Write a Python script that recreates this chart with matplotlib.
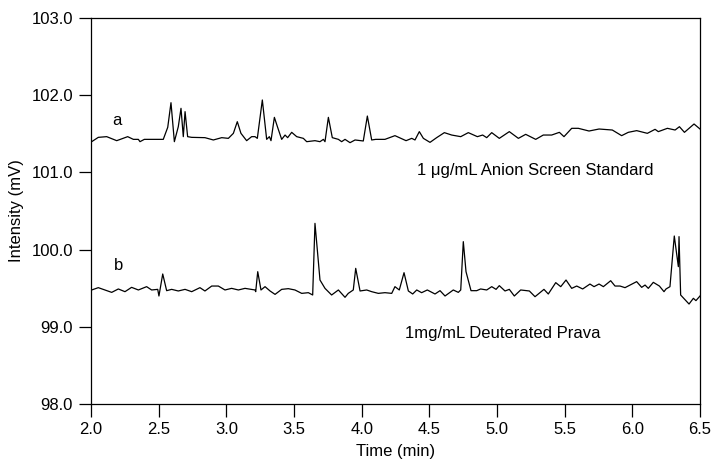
import matplotlib
matplotlib.use("Agg")
import matplotlib.pyplot as plt
from matplotlib.ticker import FormatStrFormatter

plt.rcParams['font.family'] = ['Liberation Sans', 'DejaVu Sans']

# Trace a: 1 ug/mL Anion Screen Standard
a_time = [2.005, 2.054, 2.116, 2.19, 2.271, 2.313, 2.35, 2.362, 2.394, 2.534, 2.567, 2.591,
          2.616, 2.645, 2.665, 2.682, 2.695, 2.714, 2.744, 2.842, 2.904, 2.966, 3.015, 3.052,
          3.081, 3.108, 3.15, 3.187, 3.212, 3.229, 3.266, 3.298, 3.318, 3.33, 3.355, 3.379,
          3.409, 3.434, 3.453, 3.483, 3.52, 3.569, 3.594, 3.655, 3.692, 3.717, 3.729, 3.754,
          3.783, 3.828, 3.852, 3.877, 3.914, 3.951, 4.012, 4.042, 4.074, 4.104, 4.172,
          4.246, 4.328, 4.37, 4.394, 4.426, 4.456, 4.505, 4.554, 4.611, 4.665, 4.732, 4.788,
          4.855, 4.894, 4.924, 4.961, 5.017, 5.091, 5.158, 5.212, 5.286, 5.342, 5.404, 5.461,
          5.495, 5.552, 5.601, 5.68, 5.754, 5.852, 5.921, 5.97, 6.032, 6.111, 6.168, 6.192,
          6.259, 6.316, 6.348, 6.385, 6.456, 6.5]
a_value = [101.398, 101.454, 101.463, 101.411, 101.463, 101.428, 101.428, 101.398, 101.428,
           101.428, 101.584, 101.903, 101.398, 101.592, 101.83, 101.463, 101.787, 101.463,
           101.454, 101.45, 101.42, 101.45, 101.441, 101.506, 101.657, 101.506, 101.411,
           101.463, 101.463, 101.441, 101.938, 101.428, 101.463, 101.411, 101.713, 101.584,
           101.428, 101.484, 101.45, 101.519, 101.463, 101.441, 101.398, 101.411, 101.398,
           101.428, 101.398, 101.713, 101.45, 101.428, 101.398, 101.428, 101.385, 101.42,
           101.407, 101.73, 101.42, 101.428, 101.428,
           101.476, 101.411, 101.441, 101.42, 101.528, 101.441, 101.389, 101.45, 101.515,
           101.484, 101.463, 101.515, 101.463, 101.484, 101.45, 101.515, 101.441, 101.528,
           101.441, 101.493, 101.428, 101.484, 101.484, 101.519, 101.463, 101.571, 101.571,
           101.536, 101.562, 101.549, 101.476, 101.519, 101.541, 101.506, 101.558, 101.528,
           101.571, 101.549, 101.592, 101.519, 101.627, 101.562]

# Trace b: 1 mg/mL Deuterated Prava
b_time = [2.005, 2.054, 2.153, 2.202, 2.251, 2.30, 2.35, 2.411, 2.448, 2.493, 2.502, 2.53,
          2.559, 2.596, 2.645, 2.695, 2.744, 2.805, 2.842, 2.892, 2.941, 2.99, 3.039, 3.089,
          3.138, 3.212, 3.217, 3.232, 3.256, 3.286, 3.323, 3.36, 3.409, 3.458, 3.507, 3.557,
          3.606, 3.638, 3.655, 3.692, 3.729, 3.778, 3.828, 3.877, 3.901, 3.938, 3.956, 3.988,
          4.037, 4.074, 4.123, 4.172, 4.222, 4.246,
          4.278, 4.313, 4.345, 4.377, 4.407, 4.443, 4.485, 4.542, 4.579, 4.616, 4.677, 4.714,
          4.732, 4.751, 4.771, 4.808, 4.85, 4.879, 4.924, 4.961, 4.993, 5.017, 5.059, 5.091,
          5.128, 5.175, 5.239, 5.281, 5.347, 5.379, 5.434, 5.471, 5.51, 5.552, 5.589, 5.633,
          5.687, 5.717, 5.754, 5.786, 5.84, 5.872, 5.909, 5.946, 6.032, 6.069, 6.094, 6.118,
          6.155, 6.2, 6.234, 6.249, 6.278, 6.31, 6.34, 6.345, 6.357, 6.419, 6.451, 6.47, 6.5]
b_value = [99.477, 99.507, 99.446, 99.49, 99.455, 99.511, 99.477, 99.52, 99.477, 99.485,
           99.399, 99.684, 99.468, 99.485, 99.464, 99.485, 99.455, 99.507, 99.464, 99.528,
           99.528, 99.477, 99.498, 99.477, 99.498, 99.477, 99.455, 99.714, 99.477, 99.52,
           99.464, 99.42, 99.485, 99.494, 99.477, 99.433, 99.442, 99.412, 100.34, 99.606,
           99.498, 99.412, 99.477, 99.382, 99.433, 99.477, 99.757, 99.464, 99.477, 99.455,
           99.433, 99.442, 99.433, 99.52,
           99.477, 99.701, 99.464, 99.425, 99.477, 99.442, 99.477, 99.425, 99.468, 99.399,
           99.477, 99.446, 99.477, 100.103, 99.714, 99.468, 99.468, 99.49, 99.477, 99.52,
           99.485, 99.533, 99.464, 99.485, 99.399, 99.477, 99.464, 99.39, 99.485, 99.425,
           99.572, 99.52, 99.606, 99.498, 99.528, 99.49, 99.554, 99.52, 99.554, 99.52, 99.597,
           99.528, 99.528, 99.507, 99.585, 99.511, 99.541, 99.498, 99.576, 99.528, 99.455,
           99.49, 99.52, 100.176, 99.779, 100.168, 99.412, 99.295, 99.369, 99.339, 99.399]

x_ticks = [2.0, 2.5, 3.0, 3.5, 4.0, 4.5, 5.0, 5.5, 6.0, 6.5]
y_ticks = [98.0, 99.0, 100.0, 101.0, 102.0, 103.0]

fig = plt.figure(figsize=(7.14, 4.65), dpi=100)
ax = fig.add_axes([91/714, (465-404)/465, (700-91)/714, (404-18)/465])

ax.plot(a_time, a_value, color='black', linewidth=0.9)
ax.plot(b_time, b_value, color='black', linewidth=0.9)

ax.set_xlim(2.0, 6.5)
ax.set_ylim(98.0, 103.0)
ax.set_xticks(x_ticks)
ax.set_yticks(y_ticks)
ax.xaxis.set_major_formatter(FormatStrFormatter('%.1f'))
ax.yaxis.set_major_formatter(FormatStrFormatter('%.1f'))
ax.tick_params(direction='out', length=9, width=0.9, labelsize=12, pad=4)
for s in ax.spines.values():
    s.set_linewidth(0.9)

ax.set_xlabel('Time (min)', fontsize=12, labelpad=5)
ax.set_ylabel('Intensity (mV)', fontsize=12, labelpad=5)

ax.text(2.19, 101.67, 'a', fontsize=12, ha='center', va='center')
ax.text(2.20, 99.80, 'b', fontsize=12, ha='center', va='center')
ax.text(4.41, 101.03, '1 μg/mL Anion Screen Standard', fontsize=12, ha='left', va='center')
ax.text(4.32, 98.91, '1mg/mL Deuterated Prava', fontsize=12, ha='left', va='center')

fig.savefig('out.png', dpi=100)
